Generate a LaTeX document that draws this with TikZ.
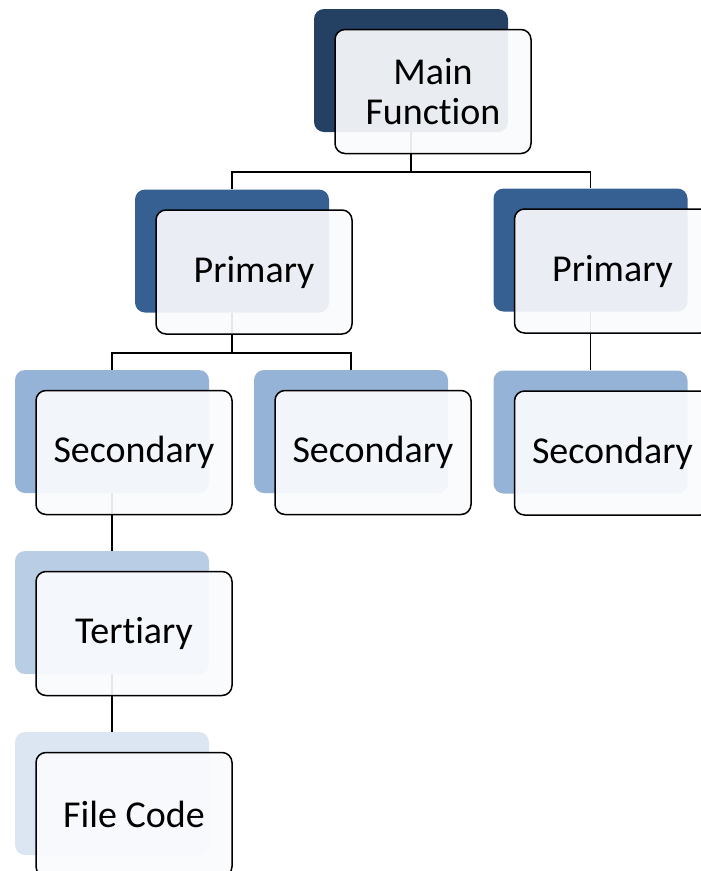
\documentclass[tikz,border=0pt]{standalone}
\usepackage{fontspec}
\setmainfont{Carlito}[Ligatures=NoCommon]
\usetikzlibrary{positioning}
\definecolor{mainBack}{RGB}{36,64,98}
\definecolor{primBack}{RGB}{54,96,146}
\definecolor{secBack}{RGB}{149,179,215}
\definecolor{terBack}{RGB}{185,205,229}
\definecolor{fileBack}{RGB}{220,230,242}
\definecolor{frontFill}{RGB}{250,251,253}
\tikzset{
    backbox/.style={rounded corners=10pt, minimum width=194pt, minimum height=123pt, draw=none},
    frontbox/.style={rounded corners=10pt, minimum width=196pt, minimum height=124pt, draw, line width=1.5pt,
        fill=frontFill, fill opacity=0.92, text opacity=1, align=center, inner sep=0pt,
        font=\fontsize{38}{40}\selectfont},
    link/.style={line width=1.7pt}
}
\newcommand{\drawB}[4]{
    \node[backbox, fill=#3] (#4B) at (#1,#2) {};
}
\newcommand{\drawF}[2]{
    \node[frontbox] (#1) at ([shift={(22,21)}]#1B) {#2};
}

\begin{document}
\begin{tikzpicture}[x=1pt, y=-1pt]
        \useasboundingbox (0,0) rectangle (701,871);
        % Back boxes
        \drawB{411}{70.5}{mainBack}{main}
        \drawB{232}{251}{primBack}{primL}
        \drawB{590.5}{250}{primBack}{primR}
        \drawB{112}{431.5}{secBack}{secL}
        \drawB{351}{431.5}{secBack}{secM}
        \drawB{590.5}{432}{secBack}{secR}
        \drawB{112}{612.5}{terBack}{ter}
        \drawB{112}{793.5}{fileBack}{file}
        % Links
        \draw[link] (mainB.south) -- ++(0,40) -| (primLB.north);
        \draw[link] (mainB.south) -- ++(0,40) -| (primRB.north);
        \draw[link] (primLB.south) -- ++(0,40) -| (secLB.north);
        \draw[link] (primLB.south) -- ++(0,40) -| (secMB.north);
        \draw[link] (primRB.south) -- (secRB.north);
        \draw[link] (secLB.south) -- (terB.north);
        \draw[link] (terB.south) -- (fileB.north);
        % Front boxes
        \drawF{main}{Main\\Function}
        \drawF{primL}{Primary}
        \drawF{primR}{Primary}
        \drawF{secL}{Secondary}
        \drawF{secM}{Secondary}
        \drawF{secR}{Secondary}
        \drawF{ter}{Tertiary}
        \drawF{file}{File Code}
    \end{tikzpicture}
\end{document}
